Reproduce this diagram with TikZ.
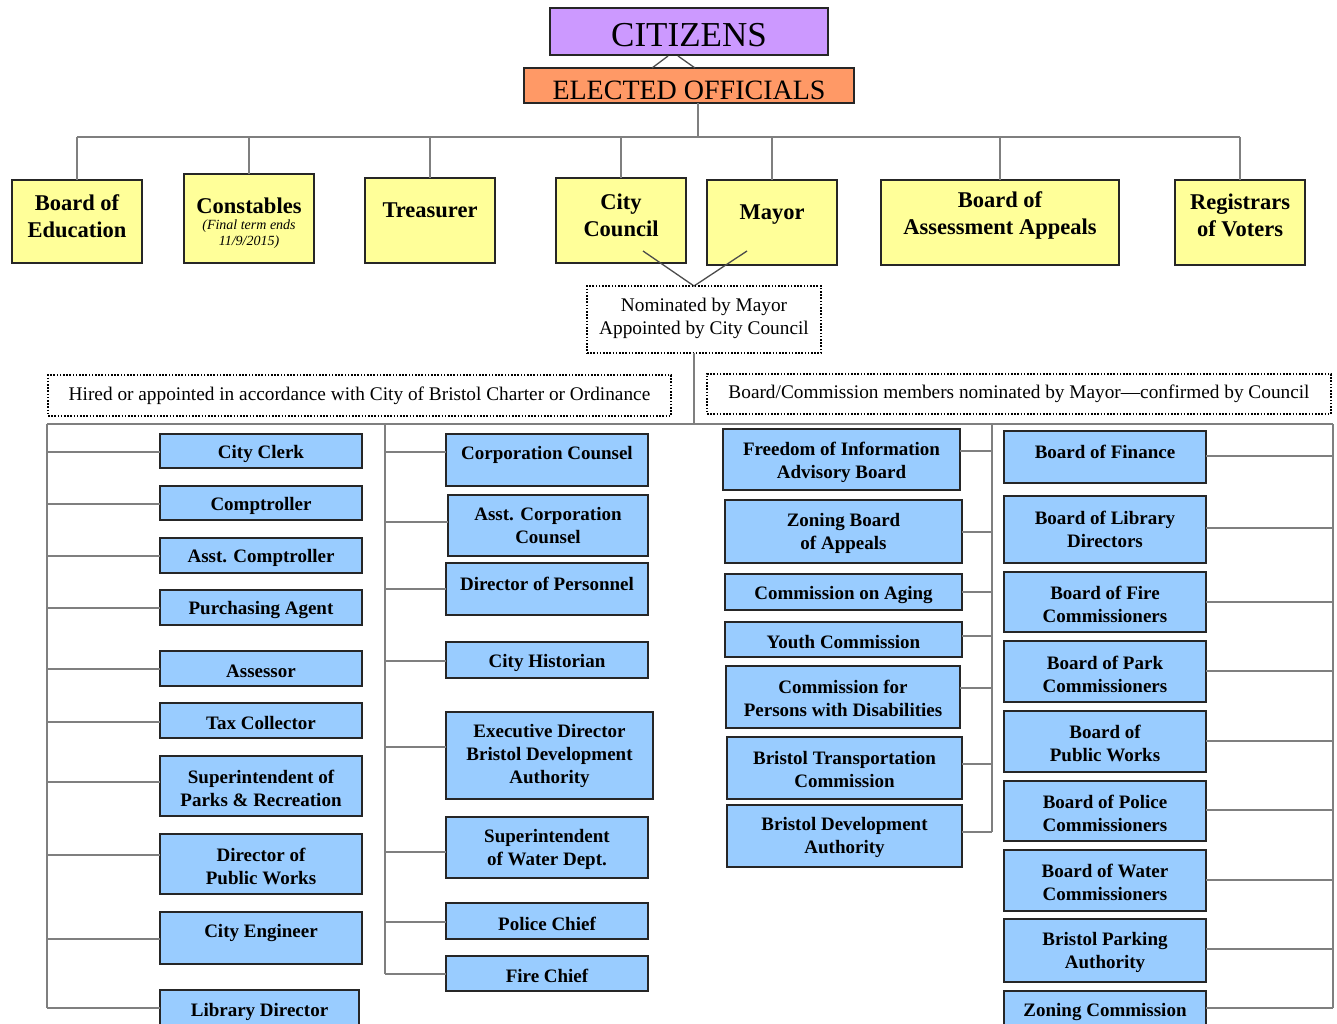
\documentclass[tikz,border=0pt]{standalone}
\usepackage{fontspec}
\setmainfont{Liberation Serif}
\usetikzlibrary{fit}
\definecolor{czcol}{HTML}{CC99FF}
\definecolor{eocol}{HTML}{FF9966}
\definecolor{ybcol}{HTML}{FFFF99}
\definecolor{bbcol}{HTML}{99CCFF}
\definecolor{conncol}{HTML}{7F7F7F}
\tikzset{
  boxbase/.style={draw=black!85, line width=1.3bp, inner sep=0pt, outer sep=0pt},
  cz/.style={boxbase, fill=czcol},
  cztxt/.style={font=\fontsize{35bp}{40bp}\selectfont},
  eo/.style={boxbase, fill=eocol},
  eotxt/.style={font=\fontsize{28bp}{32bp}\selectfont},
  yb/.style={boxbase, fill=ybcol},
  ybtxt/.style={align=center, inner sep=0pt, font=\fontsize{22.5bp}{27bp}\selectfont\bfseries},
  bb/.style={boxbase, fill=bbcol},
  bbtxt/.style={align=center, inner sep=0pt, font=\fontsize{19bp}{23bp}\selectfont\bfseries},
  dt/.style={draw=black, line width=1.8bp, dash pattern=on 1.6bp off 1.6bp, inner sep=0pt, outer sep=0pt},
  dttxt/.style={align=center, inner sep=0pt, font=\fontsize{19.3bp}{23bp}\selectfont},
  conn/.style={draw=conncol, line width=2bp},
  connd/.style={draw=black!70, line width=1.3bp},
}
% style, name, x1, y1, x2, y2, text-center-y, text
\newcommand\bx[8]{%
  \node[#1, fit={(#3,#4) (#5,#6)}] (#2) {};
  \node[#1txt] (#2-t) at ({(#3+#5)/2},{#7+2}) {#8};}
\newcommand\lc[3]{\draw[conn] (#1.west |- 0,#3) -- (#2 |- 0,#3);}
\newcommand\rc[3]{\draw[conn] (#1.east |- 0,#3) -- (#2 |- 0,#3);}
\begin{document}
\begin{tikzpicture}[x=1bp,y=-1bp]
\useasboundingbox (0,0) rectangle (1337,1023);
\clip (0,0) rectangle (1337,1023);
\fill[white] (0,0) rectangle (1337,1023);

% ---------- junction coordinates ----------
\coordinate (tB) at (698,137);
\coordinate (tbar) at (0,137);
\coordinate (vC) at (643,251);
\coordinate (vM) at (747,251);
\coordinate (vN) at (694,286);
\coordinate (jL) at (47,424);
\coordinate (jB) at (385,424);
\coordinate (jN) at (694,424);
\coordinate (jC) at (992,424);
\coordinate (jR) at (1333,424);

% ---------- top ----------
\bx{cz}{citizens}{550}{8}{828}{55}{33}{CITIZENS}
\bx{eo}{elected}{524}{68}{854}{103}{88}{ELECTED OFFICIALS}
\draw[connd] (652,68) -- (668,56);
\draw[connd] (678,56) -- (695,68);

% elected officials row
\bx{yb}{boe}{12}{180}{142}{263}{214.5}{Board of\\Education}
\node[yb, fit={(184,174) (314,263)}] (const) {};
\node[ybtxt] (const-t) at (249,206) {Constables};
\node[align=center, inner sep=0pt, font=\fontsize{14bp}{15.5bp}\selectfont\itshape] (const-n) at (249,234) {(Final term ends\\11/9/2015)};
\bx{yb}{treas}{365}{178}{495}{263}{208}{Treasurer}
\bx{yb}{council}{556}{178}{686}{263}{213.5}{City\\Council}
\bx{yb}{mayor}{707}{180}{837}{265}{213}{Mayor}
\bx{yb}{baa}{881}{180}{1119}{265}{213.5}{Board of\\Assessment Appeals}
\bx{yb}{reg}{1175}{180}{1305}{265}{213.5}{Registrars\\of Voters}

\draw[conn] (tB |- elected.south) -- (tB);
\draw[conn] (boe.north |- tbar) -- (reg.north |- tbar);
\foreach \n in {boe,const,treas,council,mayor,baa,reg}
  \draw[conn] (\n.north) -- (\n.north |- tbar);

\draw[connd] (vC) -- (vN) -- (vM);

% ---------- appointed ----------
\bx{dt}{nom}{587}{286}{821}{353}{316.5}{Nominated by Mayor\\Appointed by City Council}
\bx{dt}{hired}{48}{375}{671}{416}{394}{Hired or appointed in accordance with City of Bristol Charter or Ordinance}
\bx{dt}{boards}{707}{374}{1331}{414}{392}{Board/Commission members nominated by Mayor\textemdash confirmed by Council}

% ---------- boxes column A ----------
\bx{bb}{clerk}{160}{434}{362}{468}{452}{City Clerk}
\bx{bb}{compt}{160}{486}{362}{520}{504}{Comptroller}
\bx{bb}{acompt}{160}{538}{362}{573}{556}{Asst. Comptroller}
\bx{bb}{purch}{160}{590}{362}{625}{608}{Purchasing Agent}
\bx{bb}{assess}{160}{651}{362}{686}{669}{Assessor}
\bx{bb}{taxc}{160}{703}{362}{738}{721}{Tax Collector}
\bx{bb}{supp}{160}{756}{362}{816}{786.5}{Superintendent of\\Parks \& Recreation}
\bx{bb}{dpw}{160}{834}{362}{894}{864.5}{Director of\\Public Works}
\bx{bb}{ceng}{160}{912}{362}{964}{931}{City Engineer}
\bx{bb}{libd}{160}{990}{359}{1040}{1010}{Library Director}

% ---------- boxes column B ----------
\bx{bb}{corpc}{446}{434}{648}{486}{453}{Corporation Counsel}
\bx{bb}{acorp}{448}{495}{648}{556}{523.5}{Asst. Corporation\\Counsel}
\bx{bb}{dpers}{446}{563}{648}{615}{582}{Director of Personnel}
\bx{bb}{chist}{446}{642}{648}{678}{661}{City Historian}
\bx{bb}{execd}{446}{712}{653}{799}{753.5}{Executive Director\\Bristol Development\\Authority}
\bx{bb}{supw}{446}{817}{648}{878}{847.5}{Superintendent\\of Water Dept.}
\bx{bb}{police}{446}{903}{648}{939}{922}{Police Chief}
\bx{bb}{firec}{446}{956}{648}{991}{974}{Fire Chief}

% ---------- boxes column C ----------
\bx{bb}{foi}{723}{429}{960}{490}{460.5}{Freedom of Information\\Advisory Board}
\bx{bb}{zba}{725}{500}{962}{563}{531.5}{Zoning Board\\of Appeals}
\bx{bb}{aging}{725}{574}{962}{610}{593}{Commission on Aging}
\bx{bb}{youth}{725}{622}{962}{657}{640}{Youth Commission}
\bx{bb}{cpwd}{726}{666}{960}{728}{696.5}{Commission for\\Persons with Disabilities}
\bx{bb}{btc}{727}{737}{962}{799}{767.5}{Bristol Transportation\\Commission}
\bx{bb}{bdac}{727}{805}{962}{867}{835.5}{Bristol Development\\Authority}

% ---------- boxes column D ----------
\bx{bb}{bfin}{1004}{431}{1206}{483}{450}{Board of Finance}
\bx{bb}{blib}{1004}{496}{1206}{563}{527.5}{Board of Library\\Directors}
\bx{bb}{bfire}{1004}{572}{1206}{632}{602.5}{Board of Fire\\Commissioners}
\bx{bb}{bpark}{1004}{641}{1206}{702}{672.5}{Board of Park\\Commissioners}
\bx{bb}{bpw}{1004}{711}{1206}{772}{741.5}{Board of\\Public Works}
\bx{bb}{bpol}{1004}{781}{1206}{841}{811.5}{Board of Police\\Commissioners}
\bx{bb}{bwat}{1004}{850}{1206}{911}{880.5}{Board of Water\\Commissioners}
\bx{bb}{bpkg}{1004}{919}{1206}{982}{950.5}{Bristol Parking\\Authority}
\bx{bb}{zonc}{1004}{991}{1206}{1040}{1010}{Zoning Commission}

% ---------- connectors ----------
\draw[conn] (jN |- nom.south) -- (jN);
\draw[conn] (jL) -- (jR);
\draw[conn] (jL) -- (jL |- 0,1008);
\draw[conn] (jB) -- (jB |- 0,974);
\draw[conn] (jC) -- (jC |- 0,832);
\draw[conn] (jR) -- (jR |- 0,1008);

% column A
\lc{clerk}{jL}{452}
\lc{compt}{jL}{504}
\lc{acompt}{jL}{556}
\lc{purch}{jL}{608}
\lc{assess}{jL}{669}
\lc{taxc}{jL}{722}
\lc{supp}{jL}{782}
\lc{dpw}{jL}{855}
\lc{ceng}{jL}{939}
\lc{libd}{jL}{1008}
% column B
\lc{corpc}{jB}{452}
\lc{acorp}{jB}{522}
\lc{dpers}{jB}{589}
\lc{chist}{jB}{661}
\lc{execd}{jB}{747}
\lc{supw}{jB}{852}
\lc{police}{jB}{922}
\lc{firec}{jB}{974}
% column C
\rc{foi}{jC}{451}
\rc{zba}{jC}{532}
\rc{aging}{jC}{592}
\rc{youth}{jC}{636}
\rc{cpwd}{jC}{688}
\rc{btc}{jC}{764}
\rc{bdac}{jC}{832}
% column D
\rc{bfin}{jR}{456}
\rc{blib}{jR}{528}
\rc{bfire}{jR}{602}
\rc{bpark}{jR}{671}
\rc{bpw}{jR}{741}
\rc{bpol}{jR}{810}
\rc{bwat}{jR}{880}
\rc{bpkg}{jR}{949}
\rc{zonc}{jR}{1008}
\end{tikzpicture}
\end{document}
